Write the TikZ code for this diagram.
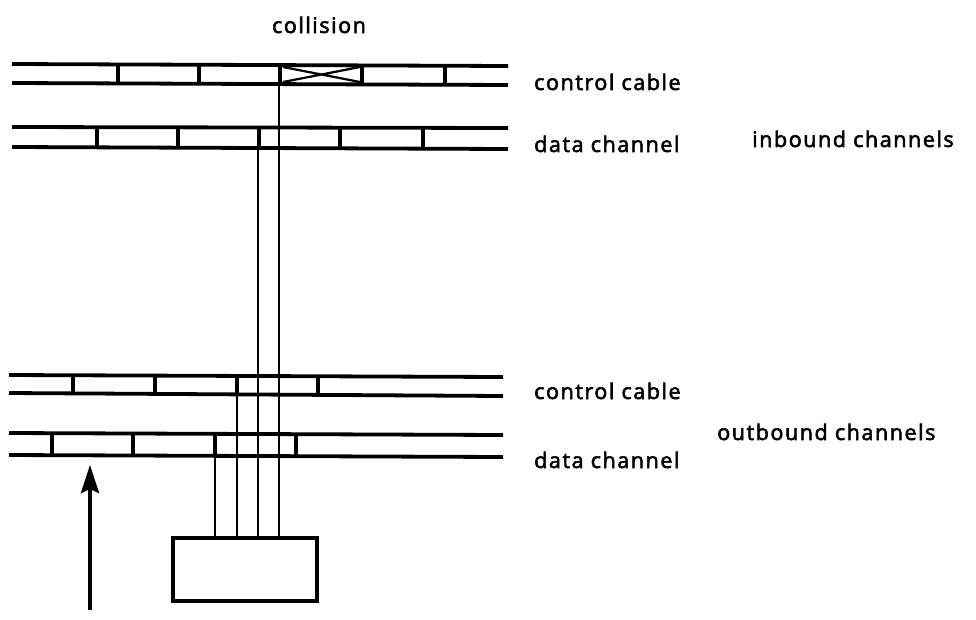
\documentclass[tikz,border=0pt]{standalone}
\usepackage{fontspec}
\setmainfont{Open Sans}
\newfontfamily\lblfont{Open Sans}[LetterSpace=7,FakeBold=2.5]
\usetikzlibrary{arrows.meta}
\begin{document}
\begin{tikzpicture}[x=1pt,y=-1pt,
  rail/.style={line width=3.8pt},
  divider/.style={line width=3.8pt},
  wire/.style={line width=1.9pt},
  lbl/.style={font=\lblfont\fontsize{21.6}{24}\selectfont, inner sep=0pt, anchor=base west},
  stationbox/.style={draw, line width=4.2pt, minimum width=144pt, minimum height=63pt, inner sep=0pt}]
\useasboundingbox (0,0) rectangle (976,619);
% inbound control cable
\draw[rail] (12,64) -- (508,66);
\draw[rail] (12,83) -- (508,85);
\foreach \x in {118,199,280,362,445} \draw[divider] (\x,64.5) -- (\x,84);
\draw[line width=2.2pt] (283,67) -- (360,82) (283,82) -- (360,67);
% inbound data channel
\draw[rail] (12,127) -- (508,128);
\draw[rail] (12,147) -- (508,149);
\foreach \x in {97,178,259,340,423} \draw[divider] (\x,127) -- (\x,148);
% outbound control cable
\draw[rail] (9,375) -- (503,377);
\draw[rail] (9,393) -- (503,396);
\foreach \x in {73,155,237,318} \draw[divider] (\x,375.5) -- (\x,394.5);
% outbound data channel
\draw[rail] (9,433) -- (503,435);
\draw[rail] (9,455) -- (503,457);
\foreach \x in {52,133,215,296} \draw[divider] (\x,433.5) -- (\x,456);
% station
\node[stationbox] (station) at (245,569.5) {};
\coordinate (t1) at (215,455);
\coordinate (t2) at (237,393);
\coordinate (t3) at (258,147);
\coordinate (t4) at (279,83);
\foreach \i in {1,2,3,4} \draw[wire] (t\i) -- (station.north -| t\i);
% arrow
\coordinate (abot) at (90,610);
\coordinate (atop) at (90,465);
\draw[line width=4.2pt, -{Stealth[length=28pt,width=18pt,inset=4pt]}] (abot) -- (atop);
% labels
\node[lbl, anchor=base] (coll) at (319,33) {collision};
\node[lbl] (cc1) at (534,90) {control cable};
\node[lbl] (dc1) at (534,152) {data channel};
\node[lbl] (inb) at (752,147) {inbound channels};
\node[lbl] (cc2) at (534,399) {control cable};
\node[lbl] (dc2) at (534,468) {data channel};
\node[lbl] (outb) at (717,440) {outbound channels};
\end{tikzpicture}
\end{document}
